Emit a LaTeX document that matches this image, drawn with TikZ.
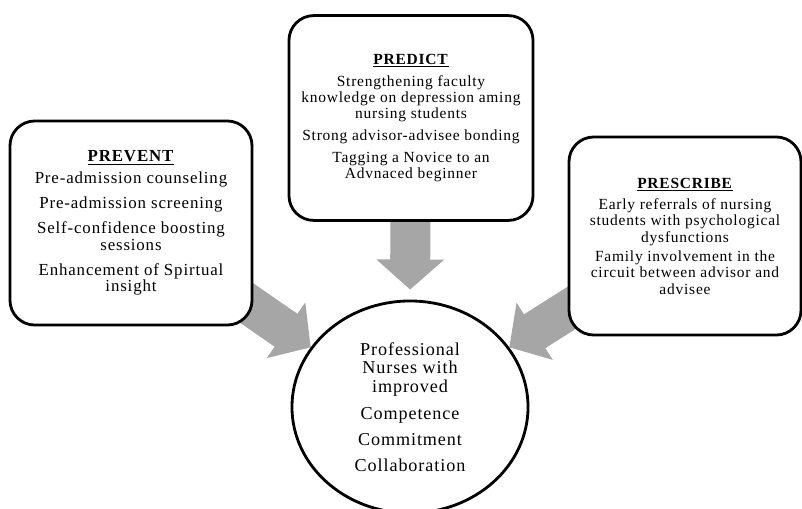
\documentclass[tikz,border=0pt]{standalone}
\usepackage{fontspec}
\setmainfont{Liberation Serif}[LetterSpace=5]
\usepackage{tikz}
\usetikzlibrary{arrows.meta,positioning,shapes,backgrounds}

\begin{document}
% fixed line pitch, even where ascenders meet descenders
\lineskiplimit=-10pt
\begin{tikzpicture}[x=0.025cm,y=-0.025cm,
  box/.style={draw,line width=2pt,rounded corners=0.62cm,fill=white,align=center,inner sep=0pt},
  goalshape/.style={draw,line width=2pt,ellipse,fill=white,align=center,inner sep=0pt,
    minimum width=5.9cm,minimum height=5.3cm},
  bigtext/.style={font=\fontsize{12}{11.7}\selectfont},
  smalltext/.style={font=\fontsize{11}{11.5}\selectfont},
  flow/.style={line width=1cm,gray!70,-{Triangle[length=0.75cm,width=1.65cm]}}]

    \useasboundingbox (0,0) rectangle (802,508);

    % the three strategies
    \node[box,bigtext,minimum width=6.05cm,minimum height=5.1cm](prevent) at (131,223)
      {\underline{\textbf{PREVENT}}\\[3.9pt]
       Pre-admission counseling\\[6pt]
       Pre-admission screening\\[6pt]
       Self-confidence boosting\\ sessions\\[6pt]
       Enhancement of Spirtual\\ insight};
    \node[box,smalltext,minimum width=6.1cm,minimum height=5.12cm](predict) at (411,118)
      {\underline{\textbf{PREDICT}}\\[4pt]
       Strengthening faculty\\ knowledge on depression aming\\ nursing students\\[4pt]
       Strong advisor-advisee bonding\\[4pt]
       Tagging a Novice to an\\ Advnaced beginner};
    \node[box,smalltext,minimum width=5.8cm,minimum height=4.95cm](prescribe) at (685,236)
      {\underline{\textbf{PRESCRIBE}}\\[3.9pt]
       Early referrals of nursing\\ students with psychological\\ dysfunctions\\[2.5pt]
       Family involvement in the\\ circuit between advisor and\\ advisee};

    % outcome
    \node[goalshape,font=\fontsize{12.9}{13.4}\selectfont](goal) at (410,407)
      {Professional\\ Nurses with\\ improved\\[5.3pt]
       Competence\\[5.3pt] Commitment\\[5.3pt] Collaboration};

    \begin{scope}[on background layer]
      \draw[flow](prevent.center) -- (goal.149);
      \draw[flow,shorten >=0.25cm](predict.center) -- (goal.north);
      \draw[flow](prescribe.center) -- (goal.31);
    \end{scope}
\end{tikzpicture}
\end{document}
